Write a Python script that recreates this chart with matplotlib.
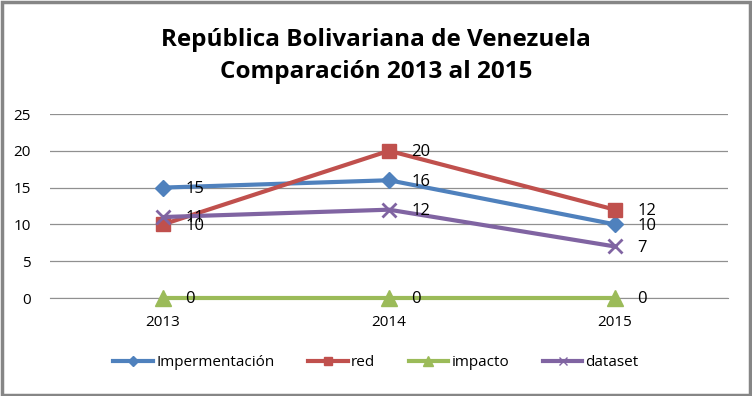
import matplotlib
matplotlib.use("Agg")
import matplotlib.pyplot as plt
from matplotlib.patches import Rectangle
from matplotlib.lines import Line2D

categories = ["2013", "2014", "2015"]
impermentacion = [15, 16, 10]
red = [10, 20, 12]
impacto = [0, 0, 0]
dataset = [11, 12, 7]
series_names = ["Impermentación", "red", "impacto", "dataset"]
yticks = [0, 5, 10, 15, 20, 25]

plt.rcParams['font.family'] = ['Open Sans', 'DejaVu Sans']

fig = plt.figure(figsize=(7.52, 3.96), dpi=100)
W, H = 752, 396
ax = fig.add_axes([50 / W, 1 - 298 / H, (728 - 50) / W, (298 - 114) / H])

x = list(range(len(categories)))
styles = [
    (impermentacion, "#4F81BD", "D", 8),
    (red, "#C0504D", "s", 10),
    (impacto, "#9BBB59", "^", 11),
    (dataset, "#8064A2", "x", 10),
]
handles = []
for (vals, col, mk, ms), name in zip(styles, series_names):
    ax.plot(x, vals, color=col, lw=3, marker=mk, markersize=ms,
            markeredgewidth=2 if mk == "x" else 1, markeredgecolor=col, zorder=3,
            clip_on=False)
    handles.append(Line2D([], [], color=col, lw=3, marker=mk, markersize=ms * 0.6,
                          markeredgewidth=1, markeredgecolor=col, label=name))
    for xi, v in zip(x, vals):
        ax.annotate(str(v), (xi, v), xytext=(16, -1), textcoords="offset points",
                    va="center", ha="left", fontsize=12, color="black", zorder=4,
                    annotation_clip=False)

ax.set_xlim(-0.5, 2.5)
ax.set_ylim(0, 25)
ax.set_yticks(yticks)
ax.set_xticks(x)
ax.set_xticklabels(categories)
ax.grid(axis="y", color="#909090", lw=0.9)
ax.set_axisbelow(True)
for s in ["left", "right", "top"]:
    ax.spines[s].set_visible(False)
ax.spines["bottom"].set_color("#909090")
ax.tick_params(axis="both", length=0, labelsize=11)
ax.tick_params(axis="y", pad=14)
ax.tick_params(axis="x", pad=12)

fig.text(0.5, 1 - 40 / H, "República Bolivariana de Venezuela", ha="center", va="center",
         fontsize=17.5, fontweight="bold")
fig.text(0.5, 1 - 72 / H, "Comparación 2013 al 2015", ha="center", va="center",
         fontsize=17.5, fontweight="bold")

fig.legend(handles=handles, loc="center", bbox_to_anchor=(0.5, 1 - 363 / H), ncol=4,
           frameon=False, fontsize=11, handlelength=2.6, columnspacing=2.2,
           handletextpad=0.2)

fig.patches.append(Rectangle((0.002, 0.003), 0.995, 0.993, transform=fig.transFigure,
                             fill=False, edgecolor="#868686", lw=2.5))

fig.savefig("out.png", dpi=100)
